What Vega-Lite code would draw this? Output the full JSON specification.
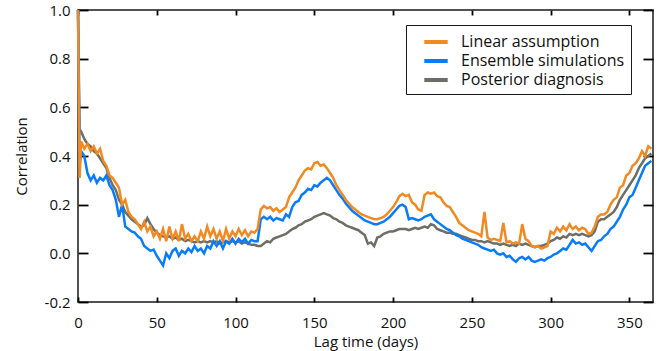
{
"$schema": "https://vega.github.io/schema/vega-lite/v6.json",
"width": 575, "height": 292,
"autosize": "none",
"padding": {"left": 78, "top": 10, "right": 7, "bottom": 49},
"config": {
  "view": {"stroke": "#1a1a1a", "strokeWidth": 1.5},
  "font": "Open Sans",
  "axis": {"labelFont": "Open Sans", "titleFont": "Open Sans", "labelFontSize": 15, "titleFontSize": 15, "labelColor": "#111", "titleColor": "#111", "titleFontWeight": "normal", "tickColor": "black", "tickWidth": 1.8, "grid": false, "domain": false}
},
"data": {"values": [
{"d":0,"lin":1.0,"ens":1.0,"post":1.0},
{"d":1,"lin":0.31,"ens":0.36,"post":0.51},
{"d":2,"lin":0.46,"ens":0.42,"post":0.50},
{"d":4,"lin":0.43,"ens":0.40,"post":0.47},
{"d":6,"lin":0.45,"ens":0.33,"post":0.45},
{"d":8,"lin":0.42,"ens":0.30,"post":0.44},
{"d":10,"lin":0.44,"ens":0.32,"post":0.42},
{"d":12,"lin":0.41,"ens":0.29,"post":0.41},
{"d":14,"lin":0.43,"ens":0.31,"post":0.39},
{"d":16,"lin":0.38,"ens":0.30,"post":0.37},
{"d":18,"lin":0.36,"ens":0.32,"post":0.35},
{"d":20,"lin":0.32,"ens":0.28,"post":0.31},
{"d":22,"lin":0.31,"ens":0.26,"post":0.28},
{"d":24,"lin":0.29,"ens":0.22,"post":0.26},
{"d":26,"lin":0.27,"ens":0.15,"post":0.22},
{"d":28,"lin":0.20,"ens":0.20,"post":0.20},
{"d":30,"lin":0.22,"ens":0.11,"post":0.17},
{"d":32,"lin":0.17,"ens":0.10,"post":0.155},
{"d":34,"lin":0.15,"ens":0.09,"post":0.14},
{"d":36,"lin":0.14,"ens":0.085,"post":0.13},
{"d":38,"lin":0.12,"ens":0.07,"post":0.12},
{"d":40,"lin":0.10,"ens":0.06,"post":0.11},
{"d":42,"lin":0.13,"ens":0.03,"post":0.115},
{"d":44,"lin":0.09,"ens":0.02,"post":0.145},
{"d":46,"lin":0.11,"ens":0.01,"post":0.12},
{"d":48,"lin":0.07,"ens":0.015,"post":0.10},
{"d":50,"lin":0.09,"ens":-0.01,"post":0.085},
{"d":52,"lin":0.06,"ens":-0.03,"post":0.075},
{"d":54,"lin":0.10,"ens":-0.05,"post":0.07},
{"d":56,"lin":0.05,"ens":0.0,"post":0.065},
{"d":58,"lin":0.11,"ens":-0.02,"post":0.07},
{"d":60,"lin":0.06,"ens":0.01,"post":0.06},
{"d":62,"lin":0.09,"ens":0.02,"post":0.065},
{"d":64,"lin":0.05,"ens":-0.01,"post":0.055},
{"d":66,"lin":0.12,"ens":0.01,"post":0.06},
{"d":68,"lin":0.06,"ens":0.0,"post":0.05},
{"d":70,"lin":0.08,"ens":0.02,"post":0.055},
{"d":72,"lin":0.05,"ens":0.005,"post":0.05},
{"d":74,"lin":0.07,"ens":0.03,"post":0.045},
{"d":76,"lin":0.05,"ens":0.01,"post":0.05},
{"d":78,"lin":0.09,"ens":0.02,"post":0.045},
{"d":80,"lin":0.06,"ens":0.0,"post":0.05},
{"d":82,"lin":0.11,"ens":0.03,"post":0.045},
{"d":84,"lin":0.07,"ens":0.02,"post":0.05},
{"d":86,"lin":0.10,"ens":0.05,"post":0.045},
{"d":88,"lin":0.06,"ens":0.03,"post":0.05},
{"d":90,"lin":0.09,"ens":0.05,"post":0.04},
{"d":92,"lin":0.05,"ens":0.02,"post":0.045},
{"d":94,"lin":0.10,"ens":0.05,"post":0.05},
{"d":96,"lin":0.06,"ens":0.04,"post":0.045},
{"d":98,"lin":0.09,"ens":0.06,"post":0.05},
{"d":100,"lin":0.07,"ens":0.04,"post":0.045},
{"d":102,"lin":0.10,"ens":0.06,"post":0.05},
{"d":104,"lin":0.075,"ens":0.045,"post":0.04},
{"d":106,"lin":0.095,"ens":0.06,"post":0.045},
{"d":108,"lin":0.07,"ens":0.04,"post":0.04},
{"d":110,"lin":0.09,"ens":0.055,"post":0.035},
{"d":112,"lin":0.085,"ens":0.05,"post":0.035},
{"d":114,"lin":0.10,"ens":0.05,"post":0.03},
{"d":116,"lin":0.18,"ens":0.14,"post":0.03},
{"d":118,"lin":0.195,"ens":0.15,"post":0.04},
{"d":120,"lin":0.185,"ens":0.14,"post":0.05},
{"d":122,"lin":0.19,"ens":0.15,"post":0.045},
{"d":124,"lin":0.175,"ens":0.135,"post":0.06},
{"d":126,"lin":0.185,"ens":0.145,"post":0.065},
{"d":128,"lin":0.17,"ens":0.14,"post":0.07},
{"d":130,"lin":0.18,"ens":0.135,"post":0.075},
{"d":132,"lin":0.19,"ens":0.16,"post":0.08},
{"d":134,"lin":0.23,"ens":0.15,"post":0.09},
{"d":136,"lin":0.25,"ens":0.19,"post":0.10},
{"d":138,"lin":0.27,"ens":0.21,"post":0.105},
{"d":140,"lin":0.30,"ens":0.215,"post":0.115},
{"d":142,"lin":0.32,"ens":0.24,"post":0.12},
{"d":144,"lin":0.34,"ens":0.25,"post":0.13},
{"d":146,"lin":0.35,"ens":0.265,"post":0.135},
{"d":148,"lin":0.345,"ens":0.26,"post":0.14},
{"d":150,"lin":0.37,"ens":0.28,"post":0.15},
{"d":152,"lin":0.375,"ens":0.275,"post":0.155},
{"d":154,"lin":0.36,"ens":0.29,"post":0.16},
{"d":156,"lin":0.365,"ens":0.30,"post":0.165},
{"d":158,"lin":0.35,"ens":0.31,"post":0.16},
{"d":160,"lin":0.33,"ens":0.30,"post":0.155},
{"d":162,"lin":0.31,"ens":0.28,"post":0.145},
{"d":164,"lin":0.28,"ens":0.26,"post":0.14},
{"d":166,"lin":0.26,"ens":0.24,"post":0.13},
{"d":168,"lin":0.24,"ens":0.225,"post":0.125},
{"d":170,"lin":0.22,"ens":0.205,"post":0.115},
{"d":172,"lin":0.205,"ens":0.19,"post":0.11},
{"d":174,"lin":0.19,"ens":0.175,"post":0.105},
{"d":176,"lin":0.18,"ens":0.165,"post":0.10},
{"d":178,"lin":0.17,"ens":0.155,"post":0.095},
{"d":180,"lin":0.16,"ens":0.145,"post":0.085},
{"d":182,"lin":0.155,"ens":0.135,"post":0.075},
{"d":184,"lin":0.15,"ens":0.13,"post":0.04},
{"d":186,"lin":0.145,"ens":0.125,"post":0.045},
{"d":188,"lin":0.14,"ens":0.12,"post":0.03},
{"d":190,"lin":0.14,"ens":0.12,"post":0.065},
{"d":192,"lin":0.145,"ens":0.125,"post":0.07},
{"d":194,"lin":0.15,"ens":0.13,"post":0.08},
{"d":196,"lin":0.16,"ens":0.14,"post":0.085},
{"d":198,"lin":0.175,"ens":0.15,"post":0.09},
{"d":200,"lin":0.19,"ens":0.165,"post":0.09},
{"d":202,"lin":0.21,"ens":0.18,"post":0.095},
{"d":204,"lin":0.235,"ens":0.195,"post":0.10},
{"d":206,"lin":0.245,"ens":0.20,"post":0.10},
{"d":208,"lin":0.235,"ens":0.19,"post":0.10},
{"d":210,"lin":0.24,"ens":0.14,"post":0.095},
{"d":212,"lin":0.21,"ens":0.145,"post":0.10},
{"d":214,"lin":0.20,"ens":0.14,"post":0.105},
{"d":216,"lin":0.18,"ens":0.135,"post":0.10},
{"d":218,"lin":0.175,"ens":0.14,"post":0.105},
{"d":220,"lin":0.24,"ens":0.15,"post":0.11},
{"d":222,"lin":0.25,"ens":0.155,"post":0.105},
{"d":224,"lin":0.245,"ens":0.16,"post":0.12},
{"d":226,"lin":0.25,"ens":0.14,"post":0.115},
{"d":228,"lin":0.235,"ens":0.13,"post":0.10},
{"d":230,"lin":0.23,"ens":0.12,"post":0.095},
{"d":232,"lin":0.21,"ens":0.11,"post":0.09},
{"d":234,"lin":0.195,"ens":0.10,"post":0.085},
{"d":236,"lin":0.19,"ens":0.095,"post":0.085},
{"d":238,"lin":0.17,"ens":0.085,"post":0.08},
{"d":240,"lin":0.15,"ens":0.075,"post":0.08},
{"d":242,"lin":0.125,"ens":0.07,"post":0.075},
{"d":244,"lin":0.115,"ens":0.06,"post":0.07},
{"d":246,"lin":0.105,"ens":0.055,"post":0.065},
{"d":248,"lin":0.095,"ens":0.05,"post":0.06},
{"d":250,"lin":0.09,"ens":0.045,"post":0.055},
{"d":252,"lin":0.085,"ens":0.04,"post":0.055},
{"d":254,"lin":0.08,"ens":0.035,"post":0.05},
{"d":256,"lin":0.07,"ens":0.025,"post":0.05},
{"d":258,"lin":0.17,"ens":0.02,"post":0.045},
{"d":260,"lin":0.065,"ens":0.015,"post":0.05},
{"d":262,"lin":0.055,"ens":0.01,"post":0.045},
{"d":264,"lin":0.06,"ens":0.015,"post":0.04},
{"d":266,"lin":0.055,"ens":0.0,"post":0.04},
{"d":268,"lin":0.05,"ens":-0.005,"post":0.035},
{"d":270,"lin":0.125,"ens":0.0,"post":0.04},
{"d":272,"lin":0.045,"ens":-0.015,"post":0.035},
{"d":274,"lin":0.05,"ens":-0.01,"post":0.03},
{"d":276,"lin":0.04,"ens":-0.025,"post":0.035},
{"d":278,"lin":0.045,"ens":-0.035,"post":0.03},
{"d":280,"lin":0.04,"ens":-0.02,"post":0.04},
{"d":282,"lin":0.12,"ens":-0.015,"post":0.035},
{"d":284,"lin":0.06,"ens":-0.025,"post":0.04},
{"d":286,"lin":0.05,"ens":-0.015,"post":0.035},
{"d":288,"lin":0.03,"ens":-0.03,"post":0.03},
{"d":290,"lin":0.025,"ens":-0.035,"post":0.025},
{"d":292,"lin":0.03,"ens":-0.03,"post":0.03},
{"d":294,"lin":0.02,"ens":-0.025,"post":0.03},
{"d":296,"lin":0.025,"ens":-0.03,"post":0.035},
{"d":298,"lin":0.03,"ens":-0.02,"post":0.04},
{"d":300,"lin":0.09,"ens":-0.015,"post":0.05},
{"d":302,"lin":0.08,"ens":-0.005,"post":0.055},
{"d":304,"lin":0.105,"ens":0.0,"post":0.065},
{"d":306,"lin":0.09,"ens":0.01,"post":0.06},
{"d":308,"lin":0.11,"ens":0.02,"post":0.07},
{"d":310,"lin":0.095,"ens":0.015,"post":0.065},
{"d":312,"lin":0.12,"ens":0.035,"post":0.08},
{"d":314,"lin":0.10,"ens":0.055,"post":0.075},
{"d":316,"lin":0.11,"ens":0.04,"post":0.08},
{"d":318,"lin":0.095,"ens":0.045,"post":0.075},
{"d":320,"lin":0.105,"ens":0.035,"post":0.08},
{"d":322,"lin":0.10,"ens":0.04,"post":0.075},
{"d":324,"lin":0.08,"ens":0.025,"post":0.07},
{"d":326,"lin":0.085,"ens":0.01,"post":0.075},
{"d":328,"lin":0.11,"ens":0.03,"post":0.09},
{"d":330,"lin":0.15,"ens":0.05,"post":0.13},
{"d":332,"lin":0.16,"ens":0.055,"post":0.14},
{"d":334,"lin":0.16,"ens":0.07,"post":0.14},
{"d":336,"lin":0.17,"ens":0.08,"post":0.15},
{"d":338,"lin":0.20,"ens":0.10,"post":0.16},
{"d":340,"lin":0.22,"ens":0.11,"post":0.17},
{"d":342,"lin":0.23,"ens":0.13,"post":0.19},
{"d":344,"lin":0.27,"ens":0.15,"post":0.22},
{"d":346,"lin":0.28,"ens":0.18,"post":0.24},
{"d":348,"lin":0.32,"ens":0.20,"post":0.26},
{"d":350,"lin":0.33,"ens":0.23,"post":0.28},
{"d":352,"lin":0.36,"ens":0.24,"post":0.30},
{"d":354,"lin":0.37,"ens":0.27,"post":0.32},
{"d":356,"lin":0.39,"ens":0.30,"post":0.35},
{"d":358,"lin":0.42,"ens":0.33,"post":0.37},
{"d":360,"lin":0.40,"ens":0.36,"post":0.39},
{"d":362,"lin":0.44,"ens":0.37,"post":0.40},
{"d":364,"lin":0.43,"ens":0.38,"post":0.41}
]},
"transform": [{"fold": ["lin", "ens", "post"], "as": ["series", "r"]}],
"layer": [
  {
    "encoding": {
      "x": {"field": "d", "type": "quantitative", "scale": {"domain": [0, 365], "nice": false, "zero": false},
        "axis": {"orient": "bottom", "title": "Lag time (days)", "values": [0, 50, 100, 150, 200, 250, 300, 350], "tickSize": -5, "labelPadding": 18, "labelFlush": false, "titlePadding": 4}},
      "y": {"field": "r", "type": "quantitative", "scale": {"domain": [-0.2, 1.0], "nice": false, "zero": false},
        "axis": {"orient": "left", "title": "Correlation", "values": [-0.2, 0, 0.2, 0.4, 0.6, 0.8, 1.0], "tickSize": -10, "labelPadding": 18, "titlePadding": 15,
          "labelExpr": "replace(format(datum.value, '.1f'), '\u2212', '-')"}},
      "color": {"field": "series", "type": "nominal",
        "scale": {"domain": ["lin", "ens", "post"], "range": ["#F18A22", "#0A7CFA", "#6E6E66"]},
        "legend": {"orient": "none", "legendX": 328, "legendY": 15, "title": null, "strokeColor": "#1a1a1a", "fillColor": "white", "padding": 6,
          "symbolType": "M-1.3,0H1.3", "symbolStrokeWidth": 4, "symbolSize": 324, "symbolOffset": 13, "labelFontSize": 16, "labelFont": "Open Sans", "labelColor": "#111", "labelOffset": 14, "rowPadding": 0, "labelLimit": 300,
          "labelExpr": "{'lin': 'Linear assumption', 'ens': 'Ensemble simulations', 'post': 'Posterior diagnosis'}[datum.label]"}}
    },
    "layer": [
      {"transform": [{"filter": "datum.series === 'post'"}], "mark": {"type": "line", "strokeWidth": 2.5}},
      {"transform": [{"filter": "datum.series === 'ens'"}], "mark": {"type": "line", "strokeWidth": 2.5}},
      {"transform": [{"filter": "datum.series === 'lin'"}], "mark": {"type": "line", "strokeWidth": 2.5}}
    ]
  },
  {
    "mark": {"type": "point", "opacity": 0},
    "encoding": {
      "x": {"field": "d", "type": "quantitative", "axis": {"orient": "top", "title": null, "labels": false, "values": [0, 50, 100, 150, 200, 250, 300, 350], "tickSize": -5}},
      "y": {"field": "r", "type": "quantitative", "axis": {"orient": "right", "title": null, "labels": false, "values": [-0.2, 0, 0.2, 0.4, 0.6, 0.8, 1.0], "tickSize": -10}}
    }
  }
],
"resolve": {"axis": {"x": "independent", "y": "independent"}}
}
